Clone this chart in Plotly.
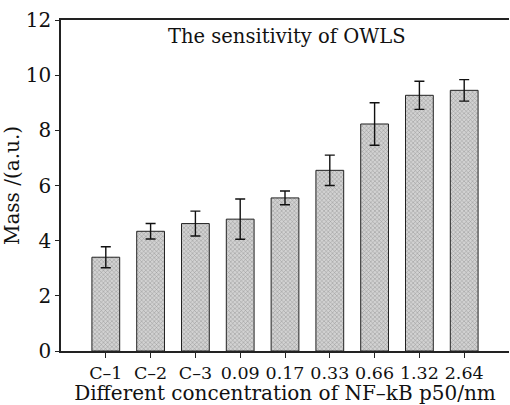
import plotly.graph_objects as go

categories = ["C–1", "C–2", "C–3", "0.09", "0.17", "0.33", "0.66", "1.32", "2.64"]
positions = [1, 2, 3, 4, 5, 6, 7, 8, 9]
mass = [3.40, 4.34, 4.62, 4.78, 5.55, 6.55, 8.23, 9.27, 9.45]
errors = [0.38, 0.28, 0.45, 0.73, 0.25, 0.55, 0.77, 0.51, 0.39]
y_ticks = [0, 2, 4, 6, 8, 10, 12]

FONT = "DejaVu Serif"

fig = go.Figure()
fig.add_trace(go.Bar(
    x=positions, y=mass, width=0.62,
    marker=dict(color="#d2d2d2", line=dict(color="#222", width=1),
                pattern=dict(shape="x", size=3, solidity=0.3, fgcolor="#555")),
    error_y=dict(type="data", array=errors, color="#111", thickness=1.4, width=5),
))

fig.add_annotation(x=0.505, y=0.99, xref="paper", yref="paper", text="The sensitivity of OWLS",
                   showarrow=False, yanchor="top", font=dict(family=FONT, size=19.5, color="#111"))

fig.update_layout(
    width=510, height=405,
    margin=dict(l=61, r=1, t=20, b=54),
    plot_bgcolor="white", paper_bgcolor="white",
    showlegend=False,
    font=dict(family=FONT, size=18, color="#111"),
    xaxis=dict(range=[0, 10], tickmode="array", tickvals=positions, ticktext=categories,
               showline=True, linecolor="#222", linewidth=1.5, mirror=True,
               ticks="outside", ticklen=5, tickcolor="#222", showgrid=False, zeroline=False,
               title=dict(text="Different concentration of NF–kB p50/nm", standoff=1,
                          font=dict(family=FONT, size=20)),
               tickfont=dict(family=FONT, size=17.5)),
    yaxis=dict(range=[0, 12], tickmode="array", tickvals=y_ticks,
               showline=True, linecolor="#222", linewidth=1.5,
               ticks="outside", ticklen=4, tickcolor="#222", showgrid=False, zeroline=False,
               title=dict(text="Mass /(a.u.)", standoff=6, font=dict(family=FONT, size=20)),
               tickfont=dict(family=FONT, size=20)),
)

fig.write_html("out.html")
